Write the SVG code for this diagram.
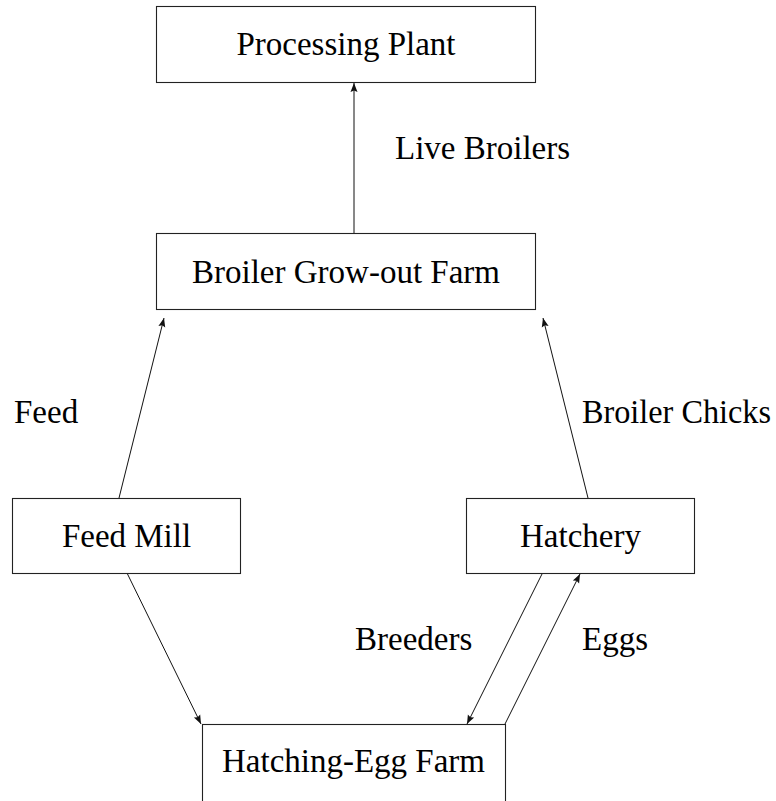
<svg xmlns="http://www.w3.org/2000/svg" width="776" height="801" viewBox="0 0 776 801">
<defs>
<marker id="ah" markerUnits="userSpaceOnUse" markerWidth="12" markerHeight="10" viewBox="-1 -5 12 10" refX="9" refY="0" orient="auto">
<path d="M0,-3.5 L9,0 L0,3.5 L1.5,0 z" fill="#111"/>
</marker>
</defs>
<rect width="776" height="801" fill="#fff"/>
<g id="connectors" fill="none" stroke="#111" stroke-width="1">
<line x1="354" y1="233" x2="354" y2="83" marker-end="url(#ah)"/>
<line x1="119" y1="498" x2="164" y2="318" marker-end="url(#ah)"/>
<line x1="588" y1="498" x2="543" y2="318" marker-end="url(#ah)"/>
<line x1="127" y1="573" x2="201" y2="724" marker-end="url(#ah)"/>
<line x1="542" y1="574" x2="467" y2="724" marker-end="url(#ah)"/>
<line x1="505" y1="724" x2="580" y2="574" marker-end="url(#ah)"/>
</g>
<g id="labels">
<text font-family="'Liberation Serif', 'Times New Roman', serif" font-size="33" x="395" y="159">Live Broilers</text>
<text font-family="'Liberation Serif', 'Times New Roman', serif" font-size="33" x="14" y="423">Feed</text>
<text font-family="'Liberation Serif', 'Times New Roman', serif" font-size="33" x="582" y="423" textLength="189" lengthAdjust="spacingAndGlyphs">Broiler Chicks</text>
<text font-family="'Liberation Serif', 'Times New Roman', serif" font-size="33" x="355" y="650">Breeders</text>
<text font-family="'Liberation Serif', 'Times New Roman', serif" font-size="33" x="582" y="650">Eggs</text>
</g>
<g id="processing-plant">
<rect x="156.5" y="6.5" width="379" height="76" fill="#fff" stroke="#222" stroke-width="1.1"/>
<text font-family="'Liberation Serif', 'Times New Roman', serif" font-size="33" text-anchor="middle" x="346" y="55">Processing Plant</text>
</g>
<g id="broiler-farm">
<rect x="156.5" y="233.5" width="379" height="76" fill="#fff" stroke="#222" stroke-width="1.1"/>
<text font-family="'Liberation Serif', 'Times New Roman', serif" font-size="33" text-anchor="middle" x="346" y="283">Broiler Grow-out Farm</text>
</g>
<g id="feed-mill">
<rect x="12.5" y="498.5" width="228" height="75" fill="#fff" stroke="#222" stroke-width="1.1"/>
<text font-family="'Liberation Serif', 'Times New Roman', serif" font-size="33" text-anchor="middle" x="126.5" y="547">Feed Mill</text>
</g>
<g id="hatchery">
<rect x="466.5" y="498.5" width="228" height="75" fill="#fff" stroke="#222" stroke-width="1.1"/>
<text font-family="'Liberation Serif', 'Times New Roman', serif" font-size="33" text-anchor="middle" x="580.5" y="547">Hatchery</text>
</g>
<g id="hatching-egg-farm">
<rect x="202.5" y="724.5" width="303" height="90" fill="#fff" stroke="#222" stroke-width="1.1"/>
<text font-family="'Liberation Serif', 'Times New Roman', serif" font-size="33" text-anchor="middle" x="353.5" y="772">Hatching-Egg Farm</text>
</g>
</svg>
